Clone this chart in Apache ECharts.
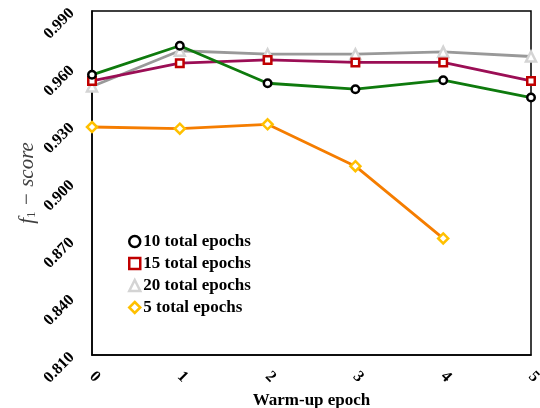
<!DOCTYPE html>
<html>
<head>
<meta charset="utf-8">
<script src="https://cdn.jsdelivr.net/npm/echarts@6/dist/echarts.min.js"></script>
<style>html,body{margin:0;padding:0;background:#fff}#c{width:540px;height:408px}</style>
</head>
<body>
<div id="c"></div>
<script>
var warmup = [0, 1, 2, 3, 4, 5];
var names = ['10 total epochs', '15 total epochs', '20 total epochs', '5 total epochs'];
var e10 = [0.9566, 0.9718, 0.9522, 0.9491, 0.9538, 0.9447];
var e15 = [0.9534, 0.9627, 0.9644, 0.9631, 0.9631, 0.9534];
var e20 = [0.9505, 0.9692, 0.9674, 0.9674, 0.9686, 0.9662];
var e5  = [0.9293, 0.9284, 0.9307, 0.9088, 0.8710];
var yTicks = ['0.810','0.840','0.870','0.900','0.930','0.960','0.990'];

function pairs(vals){ return vals.map(function(v,i){ return [warmup[i], v]; }); }

var chart = echarts.init(document.getElementById('c'), null, {renderer:'canvas'});
var font = '"Liberation Serif", "Times New Roman", serif';
var styles = [
  {line:'#0E7A0D', sym:'circle', border:'#000000', size:7.5},
  {line:'#9B0E55', sym:'rect', border:'#C00000', size:7.5},
  {line:'#999999', sym:'triangle', border:'#D4D4D4', size:10},
  {line:'#F57D00', sym:'diamond', border:'#FFC000', size:10}
];
var datas = [e10, e15, e20, e5];
var series = names.map(function(n, i){
  var s = styles[i];
  return {
    name: n, type: 'line', data: pairs(datas[i]),
    symbol: s.sym, symbolSize: s.size,
    lineStyle: {color: s.line, width: 2.8},
    itemStyle: {color: '#ffffff', borderColor: s.border, borderWidth: 2.5},
    emphasis: {disabled: true},
    z: 10 - i
  };
});
chart.setOption({
  animation: false,
  grid: {left: 92, right: 9, top: 11, bottom: 53, containLabel: false, outerBoundsMode: 'none',
    show: true, borderColor: '#000', borderWidth: 1.5, backgroundColor: 'transparent'},
  legend: {
    orient: 'vertical', left: 123, top: 228, itemGap: 5, itemWidth: 11, itemHeight: 11,
    textStyle: {fontFamily: font, fontWeight: 'bold', fontSize: 17, lineHeight: 17, color: '#000', padding: [0,0,0,-2]},
    data: names.map(function(n,i){
      var s = styles[i];
      return {name: n, icon: s.sym, itemStyle: {color:'#fff', borderColor: s.border, borderWidth: 2.5}};
    })
  },
  xAxis: {
    type: 'value', min: 0, max: 5, interval: 1,
    name: 'Warm-up epoch', nameLocation: 'middle', nameGap: 37, nameMoveOverlap: false,
    nameTextStyle: {fontFamily: font, fontWeight: 'bold', fontSize: 17, color: '#000'},
    axisLine: {show: true, lineStyle: {color:'#000', width: 1.5}},
    axisTick: {show: false}, splitLine: {show: false},
    axisLabel: {rotate: -45, margin: 19, fontFamily: font, fontWeight: 'bold', fontSize: 16, color: '#000'}
  },
  yAxis: {
    type: 'value', min: 0.81, max: 0.99, interval: 0.03,
    name: '{i|f}{s|1}{i| − score}', nameLocation: 'middle', nameGap: 54, nameMoveOverlap: false,
    nameTextStyle: {rich: {
      i: {fontFamily: font, fontStyle: 'italic', fontSize: 21, color: '#404040'},
      s: {fontFamily: font, fontSize: 13, color: '#404040', verticalAlign: 'bottom', padding: [9,0,0,0]}
    }},
    axisLine: {show: true, lineStyle: {color:'#000', width: 1.5}},
    axisTick: {show: false}, splitLine: {show: false},
    axisLabel: {rotate: 45, margin: 20, fontFamily: font, fontWeight: 'bold', fontSize: 16, color: '#000',
      formatter: function(v){ var idx = Math.round((v - 0.81)/0.03); return yTicks[idx]; }}
  },
  series: series
});
</script>
</body>
</html>
